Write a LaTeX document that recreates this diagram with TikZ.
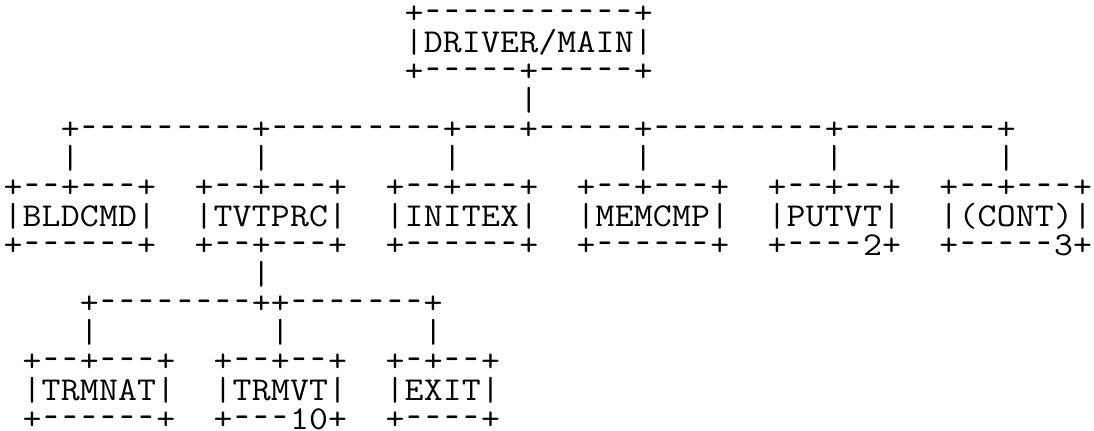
\documentclass[tikz,border=0pt]{standalone}
\usepackage{tikz}
\usepackage{graphicx}
\newcommand\asciifont{\fontsize{19pt}{19pt}\selectfont\ttfamily}
% one fixed cell per character, like a line printer
\newcommand\cellw{0.382cm}
\def\asciicells#1{\edef\asciitmp{#1}\expandafter\asciistep\asciitmp\relax}
\def\asciistep#1{\ifx#1\relax\else\asciicell{#1}\expandafter\asciistep\fi}
\def\asciicell#1{\hbox to \cellw{\hss\ifx#1-\scalebox{0.8}[1.2]{-}\else\scalebox{1.1}[1]{#1}\fi\hss}}
\tikzset{
chart line/.style={
  anchor=base west,
  inner sep=0pt,
  outer sep=0pt,
  font=\asciifont,
  xshift=-0.191cm,
  yshift=-0.2cm
}
}

\begin{document}
\begin{tikzpicture}[x=0.382cm, y=-0.5814cm]
\useasboundingbox (-0.26cm,-0.3214cm) rectangle (21.62cm,-8.941cm);
% main program box
\node[chart line] (driver-top) at (21,1) {\asciicells{+-----------+}};
\node[chart line] (driver) at (21,2) {\asciicells{|DRIVER/MAIN|}};
\node[chart line] (driver-bot) at (21,3) {\asciicells{+-----+-----+}};
\node[chart line] (driver-link) at (27,4) {\asciicells{|}};
\node[chart line] (main-bus) at (3,5) {\asciicells{+---------+---------+---+-----+---------+--------+}};
\foreach \cc in {3,13,23,33,43,52}
  \node[chart line] (drop-\cc) at (\cc,6) {\asciicells{|}};
% called routines
\foreach \nm/\cc/\rr/\tp/\lb/\bt in {
  bldcmd/0/7/{+--+---+}/{|BLDCMD|}/{+------+},
  tvtprc/10/7/{+--+---+}/{|TVTPRC|}/{+--+---+},
  initex/20/7/{+--+---+}/{|INITEX|}/{+------+},
  memcmp/30/7/{+--+---+}/{|MEMCMP|}/{+------+},
  putvt/40/7/{+--+--+}/{|PUTVT|}/{+----2+},
  cont/49/7/{+--+---+}/{|(CONT)|}/{+-----3+},
  trmnat/1/13/{+--+---+}/{|TRMNAT|}/{+------+},
  trmvt/11/13/{+--+--+}/{|TRMVT|}/{+---10+},
  exit/20/13/{+-+--+}/{|EXIT|}/{+----+}}
{
  \node[chart line] (\nm-top) at (\cc,\rr) {\asciicells{\tp}};
  \node[chart line] (\nm) at (\cc,\rr+1) {\asciicells{\lb}};
  \node[chart line] (\nm-bot) at (\cc,\rr+2) {\asciicells{\bt}};
}
% TVTPRC branch
\node[chart line] (tvtprc-link) at (13,10) {\asciicells{|}};
\node[chart line] (sub-bus) at (4,11) {\asciicells{+--------++-------+}};
\foreach \cc in {4,14,22}
  \node[chart line] (sub-drop-\cc) at (\cc,12) {\asciicells{|}};
\end{tikzpicture}
\end{document}
